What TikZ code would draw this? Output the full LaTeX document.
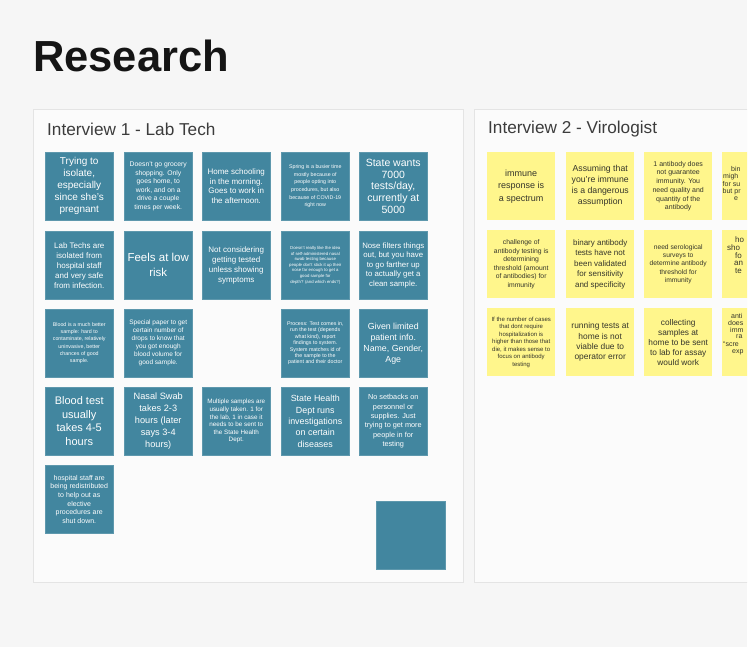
\documentclass[tikz,border=0pt]{standalone}
\usepackage{fontspec}
\setmainfont{Liberation Sans}
\definecolor{bgc}{HTML}{F6F6F6}
\definecolor{panelc}{HTML}{FBFBFB}
\definecolor{panelb}{HTML}{E4E4E4}
\definecolor{noteblue}{HTML}{42869F}
\definecolor{noteyellow}{HTML}{FFF68C}
\definecolor{ytext}{HTML}{35352B}
\definecolor{titlec}{HTML}{151515}
\definecolor{subc}{HTML}{3C3C3C}
\begin{document}
\begin{tikzpicture}[x=1pt,y=-1pt,
  panel/.style={fill=panelc,draw=panelb,line width=1pt},
  bnote/.style={fill=noteblue,draw=noteblue!85!white,line width=0.5pt,minimum width=68pt,minimum height=68pt,inner sep=0pt,anchor=north west,text=white,align=center},
  ynote/.style={fill=noteyellow,minimum width=68pt,minimum height=68pt,inner sep=0pt,anchor=north west,text=ytext,align=center},
  fs/.style 2 args={font=\fontsize{#1}{#2}\selectfont},
  frag/.style={anchor=west,inner sep=0pt,text=ytext,font=\fontsize{7}{8}\selectfont}]
\useasboundingbox (0,0) rectangle (752,652);
\begin{scope}
\clip (0,0) rectangle (747,647);
\fill[bgc] (0,0) rectangle (747,647);
\node (title) [anchor=base west,inner sep=0pt,text=titlec,font=\fontsize{43.5}{50}\selectfont\bfseries] at (33,72) {Research};
% panels
\draw[panel] (33,110) rectangle (463,582);
\draw[panel] (474,110) rectangle (800,582);
\node (t1) [anchor=west,inner sep=0pt,text=subc,font=\fontsize{17.2}{20}\selectfont] at (47,129.5) {Interview 1 - Lab Tech};
\node (t2) [anchor=west,inner sep=0pt,text=subc,font=\fontsize{17.2}{20}\selectfont] at (488,129.5) {Interview 2 - Virologist};
% ---- Interview 1 notes ----
% row 1
\node (a11) [bnote,fs={10}{12}] at (45,152) {Trying to\\isolate,\\especially\\since she's\\pregnant};
\node (a12) [bnote,fs={6.8}{8.5}] at (124,152) {Doesn't go grocery\\shopping. Only\\goes home, to\\work, and on a\\drive a couple\\times per week.};
\node (a13) [bnote,fs={8}{9.7}] at (202,152) {Home schooling\\in the morning.\\Goes to work in\\the afternoon.};
\node (a14) [bnote,fs={5.3}{7.6}] at (281,152) {Spring is a busier time\\mostly because of\\people opting into\\procedures, but also\\because of COVID-19\\right now};
\node (a15) [bnote,fs={10.5}{11.7}] at (359,152) {State wants\\7000\\tests/day,\\currently at\\5000};
% row 2
\node (a21) [bnote,fs={8}{10}] at (45,231) {Lab Techs are\\isolated from\\hospital staff\\and very safe\\from infection.};
\node (a22) [bnote,fs={11.5}{15}] at (124,231) {Feels at low\\risk};
\node (a23) [bnote,fs={8}{10}] at (202,231) {Not considering\\getting tested\\unless showing\\symptoms};
\node (a24) [bnote,fs={4.3}{5.6}] at (281,231) {Doesn't really like the idea\\of self-administered nasal\\swab testing because\\people don't stick it up their\\nose far enough to get a\\good sample for\\depth? (and which ends?)};
\node (a25) [bnote,fs={7.8}{9.6}] at (359,231) {Nose filters things\\out, but you have\\to go farther up\\to actually get a\\clean sample.};
% row 3
\node (a31) [bnote,fs={5.3}{7.3}] at (45,309) {Blood is a much better\\sample: hard to\\contaminate, relatively\\uninvasive, better\\chances of good\\sample.};
\node (a32) [bnote,fs={6.5}{8}] at (124,309) {Special paper to get\\certain number of\\drops to know that\\you got enough\\blood volume for\\good sample.};
\node (a34) [bnote,fs={5.3}{6.4}] at (281,309) {Process: Test comes in,\\run the test (depends\\what kind), report\\findings to system.\\System matches id of\\the sample to the\\patient and their doctor};
\node (a35) [bnote,fs={8.8}{11}] at (359,309) {Given limited\\patient info.\\Name, Gender,\\Age};
% row 4
\node (a41) [bnote,fs={11}{13.5}] at (45,387) {Blood test\\usually\\takes 4-5\\hours};
\node (a42) [bnote,fs={9.2}{12}] at (124,387) {Nasal Swab\\takes 2-3\\hours (later\\says 3-4\\hours)};
\node (a43) [bnote,fs={6.3}{7.6}] at (202,387) {Multiple samples are\\usually taken. 1 for\\the lab, 1 in case it\\needs to be sent to\\the State Health\\Dept.};
\node (a44) [bnote,fs={8.9}{11.3}] at (281,387) {State Health\\Dept runs\\investigations\\on certain\\diseases};
\node (a45) [bnote,fs={7.3}{9.3}] at (359,387) {No setbacks on\\personnel or\\supplies. Just\\trying to get more\\people in for\\testing};
% row 5
\node (a51) [bnote,fs={7}{8.6}] at (45,465) {hospital staff are\\being redistributed\\to help out as\\elective\\procedures are\\shut down.};
\node (blank) [bnote,minimum width=69pt] at (376,501) {};
% ---- Interview 2 notes ----
\node (b11) [ynote,fs={9}{12.5}] at (487,152) {immune\\response is\\a spectrum};
\node (b12) [ynote,fs={8.7}{11}] at (566,152) {Assuming that\\you're immune\\is a dangerous\\assumption};
\node (b13) [ynote,fs={7}{8.7}] at (644,152) {1 antibody does\\not guarantee\\immunity. You\\need quality and\\quantity of the\\antibody};
\node (b14) [ynote] at (722,152) {};
\node (b21) [ynote,fs={6.8}{8.6}] at (487,230) {challenge of\\antibody testing is\\determining\\threshold (amount\\of antibodies) for\\immunity};
\node (b22) [ynote,fs={8}{10.4}] at (566,230) {binary antibody\\tests have not\\been validated\\for sensitivity\\and specificity};
\node (b23) [ynote,fs={6.7}{8.3}] at (644,230) {need serological\\surveys to\\determine antibody\\threshold for\\immunity};
\node (b24) [ynote] at (722,230) {};
\node (b31) [ynote,fs={6}{7.5}] at (487,308) {If the number of cases\\that dont require\\hospitalization is\\higher than those that\\die, it makes sense to\\focus on antibody\\testing};
\node (b32) [ynote,fs={8.4}{10.3}] at (566,308) {running tests at\\home is not\\viable due to\\operator error};
\node (b33) [ynote,fs={8.3}{10}] at (644,308) {collecting\\samples at\\home to be sent\\to lab for assay\\would work};
\node (b34) [ynote] at (722,308) {};
% cut-off fragments of the fourth column
\node (f1) [frag] at (731,169) {bin};
\node (f2) [frag] at (723,176.5) {migh};
\node (f3) [frag] at (722.5,184) {for su};
\node (f4) [frag] at (722.5,191.5) {but pr};
\node (f5) [frag] at (734,199) {e};
\node (f6) [frag,font=\fontsize{8}{9}\selectfont] at (735,240) {ho};
\node (f7) [frag,font=\fontsize{8}{9}\selectfont] at (727,248) {sho};
\node (f8) [frag,font=\fontsize{8}{9}\selectfont] at (735,255.5) {fo};
\node (f9) [frag,font=\fontsize{8}{9}\selectfont] at (734,263) {an};
\node (f10) [frag,font=\fontsize{8}{9}\selectfont] at (735,271) {te};
\node (f11) [frag] at (731,316) {anti};
\node (f12) [frag] at (728,323) {does};
\node (f13) [frag] at (730,330) {imm};
\node (f14) [frag] at (736,337) {ra};
\node (f15) [frag] at (723,344.5) {``scre};
\node (f16) [frag] at (732,352) {exp};
\end{scope}
\end{tikzpicture}
\end{document}
